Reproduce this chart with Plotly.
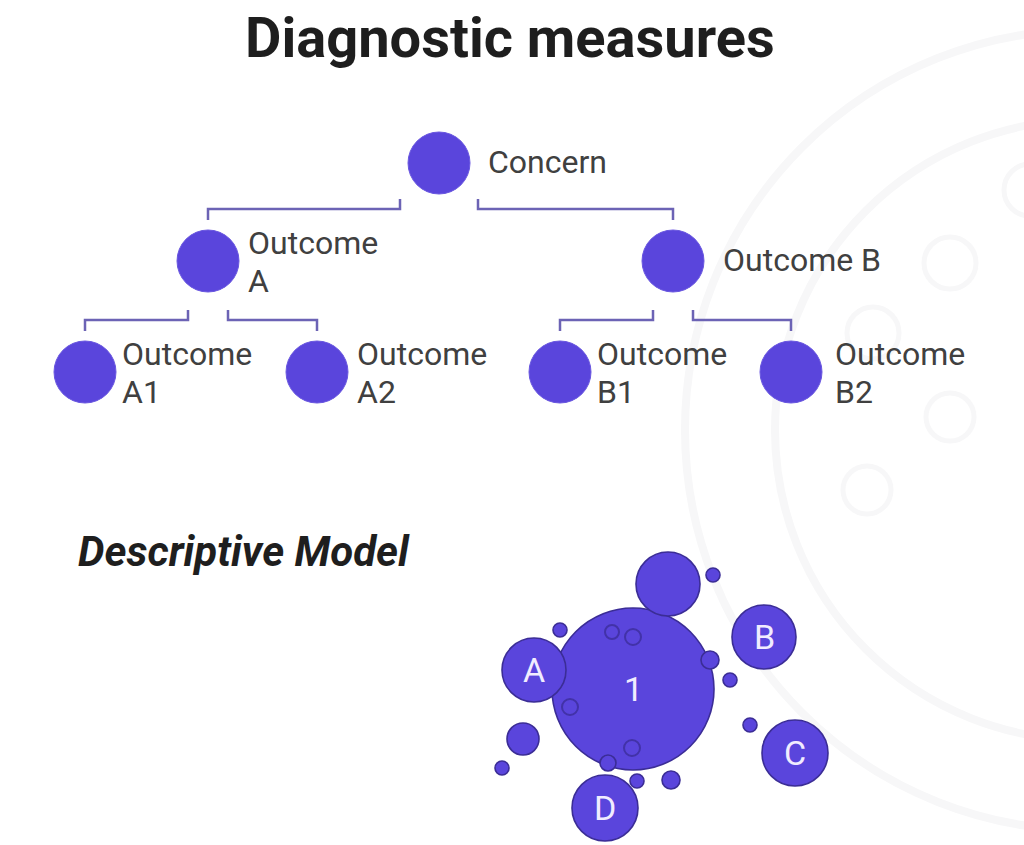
import plotly.graph_objects as go

# ---------------- data ----------------
title_text = "Diagnostic measures"
subtitle_text = "Descriptive Model"

tree_labels = ["Concern", "Outcome<br>A", "Outcome B", "Outcome<br>A1",
               "Outcome<br>A2", "Outcome<br>B1", "Outcome<br>B2"]
tree_x = [439, 208, 673, 85, 317, 560, 791]
tree_y = [163, 261, 261, 372, 372, 372, 372]
tree_parent = [None, 0, 0, 1, 1, 2, 2]
tree_label_gap = [16, 7, 17, 4, 7, 4, 11]

bubble_labels = ["1", "", "A", "B", "C", "D", ""]
bubble_x = [633, 668, 534, 764, 795, 605, 523]
bubble_y = [689, 584, 670, 637, 753, 808, 739]
bubble_r = [81, 32, 32, 32, 33, 33, 16]

dot_x = [713, 560, 710, 730, 750, 502, 608, 637, 671]
dot_y = [575, 630, 660, 680, 725, 768, 763, 781, 780]
dot_r = [7, 7, 9, 7, 7, 7, 8, 7, 9]

inner_x = [612, 633, 570, 632]
inner_y = [632, 637, 707, 748]
inner_r = [7, 8, 8, 8]

deco_x = [1085, 1085, 950, 873, 950, 867, 1030]
deco_y = [430, 430, 263, 333, 417, 490, 190]
deco_r = [400, 310, 26, 26, 24, 24, 26]

# ---------------- style ----------------
W, H = 1024, 845
NODE_R = 31
FILL = "#5a45dc"
EDGE = "#3b2d96"
LINE = "#6c63b5"
TXT = "#404040"
FONT = "Roboto, Inter, 'Noto Sans', sans-serif"
LINE_STEP = 38

fig = go.Figure()

# background decoration rings
shapes = []
for cx, cy, r in zip(deco_x, deco_y, deco_r):
    shapes.append(dict(type="circle", xref="x", yref="y",
                       x0=cx - r, x1=cx + r, y0=cy - r, y1=cy + r,
                       line=dict(color="#f7f7f8", width=8 if r > 100 else 5),
                       layer="below"))

# tree connectors (elbows computed from node positions)
cx_l, cy_l = [], []
for i, p in enumerate(tree_parent):
    if p is None:
        continue
    px, py = tree_x[p], tree_y[p]
    cx, cy = tree_x[i], tree_y[i]
    side = -1 if cx < px else 1
    gap = 39 if tree_parent[p] is None else 20
    bottom = cy - NODE_R - 10
    bar = bottom - 11
    top = bar - 10
    sx = px + side * gap
    cx_l += [sx, sx, cx, cx, None]
    cy_l += [top, bar, bar, bottom, None]

fig.add_trace(go.Scatter(x=cx_l, y=cy_l, mode="lines",
                         line=dict(color=LINE, width=2.5), hoverinfo="skip"))

# tree nodes
fig.add_trace(go.Scatter(x=tree_x, y=tree_y, mode="markers",
                         marker=dict(size=2 * NODE_R, color=FILL, opacity=1,
                                     line=dict(color="#6a58e0", width=1)),
                         hoverinfo="skip"))

annotations = []
for lab, x, y, g in zip(tree_labels, tree_x, tree_y, tree_label_gap):
    lines = lab.split("<br>")
    n = len(lines)
    for k, ln in enumerate(lines):
        yy = y + 1 + (k - (n - 1) / 2) * LINE_STEP
        if n == 1:
            yy = y - 1
        annotations.append(dict(x=x + NODE_R + g, y=yy, xref="x", yref="y",
                                text=ln, showarrow=False, xanchor="left",
                                yanchor="middle", align="left",
                                font=dict(family=FONT, size=32, color=TXT)))

# bubbles
fig.add_trace(go.Scatter(x=bubble_x, y=bubble_y, mode="markers",
                         marker=dict(size=[2 * r for r in bubble_r], color=FILL,
                                     opacity=1, line=dict(color=EDGE, width=1.6)),
                         hoverinfo="skip"))
fig.add_trace(go.Scatter(x=dot_x, y=dot_y, mode="markers",
                         marker=dict(size=[2 * r for r in dot_r], color=FILL,
                                     opacity=1, line=dict(color=EDGE, width=1.6)),
                         hoverinfo="skip"))
fig.add_trace(go.Scatter(x=inner_x, y=inner_y, mode="markers",
                         marker=dict(size=[2 * r for r in inner_r], color=FILL,
                                     opacity=1, line=dict(color="#4232a8", width=2)),
                         hoverinfo="skip"))

for lab, x, y, r in zip(bubble_labels, bubble_x, bubble_y, bubble_r):
    if lab:
        annotations.append(dict(x=x, y=y, xref="x", yref="y", text=lab,
                                showarrow=False, xanchor="center",
                                yanchor="middle",
                                font=dict(family=FONT, size=34,
                                          color="#f1ecff")))

# titles
annotations.append(dict(x=510, y=38, xref="x", yref="y", text="<b>" + title_text + "</b>",
                        showarrow=False, xanchor="center", yanchor="middle",
                        font=dict(family=FONT, size=56, color="#1e1e1e")))
annotations.append(dict(x=76, y=551, xref="x", yref="y",
                        text="<b><i>" + subtitle_text + "</i></b>",
                        showarrow=False, xanchor="left", yanchor="middle",
                        font=dict(family=FONT, size=42, color="#1e1e1e")))

fig.update_layout(
    width=W, height=H, margin=dict(l=0, r=0, t=0, b=0),
    paper_bgcolor="white", plot_bgcolor="white", showlegend=False,
    xaxis=dict(range=[0, W], visible=False, fixedrange=True),
    yaxis=dict(range=[H, 0], visible=False, fixedrange=True),
    shapes=shapes, annotations=annotations,
)

fig.write_html("out.html", config={"displayModeBar": False},
               post_script="document.body.style.margin='0';document.body.style.overflow='hidden';")
